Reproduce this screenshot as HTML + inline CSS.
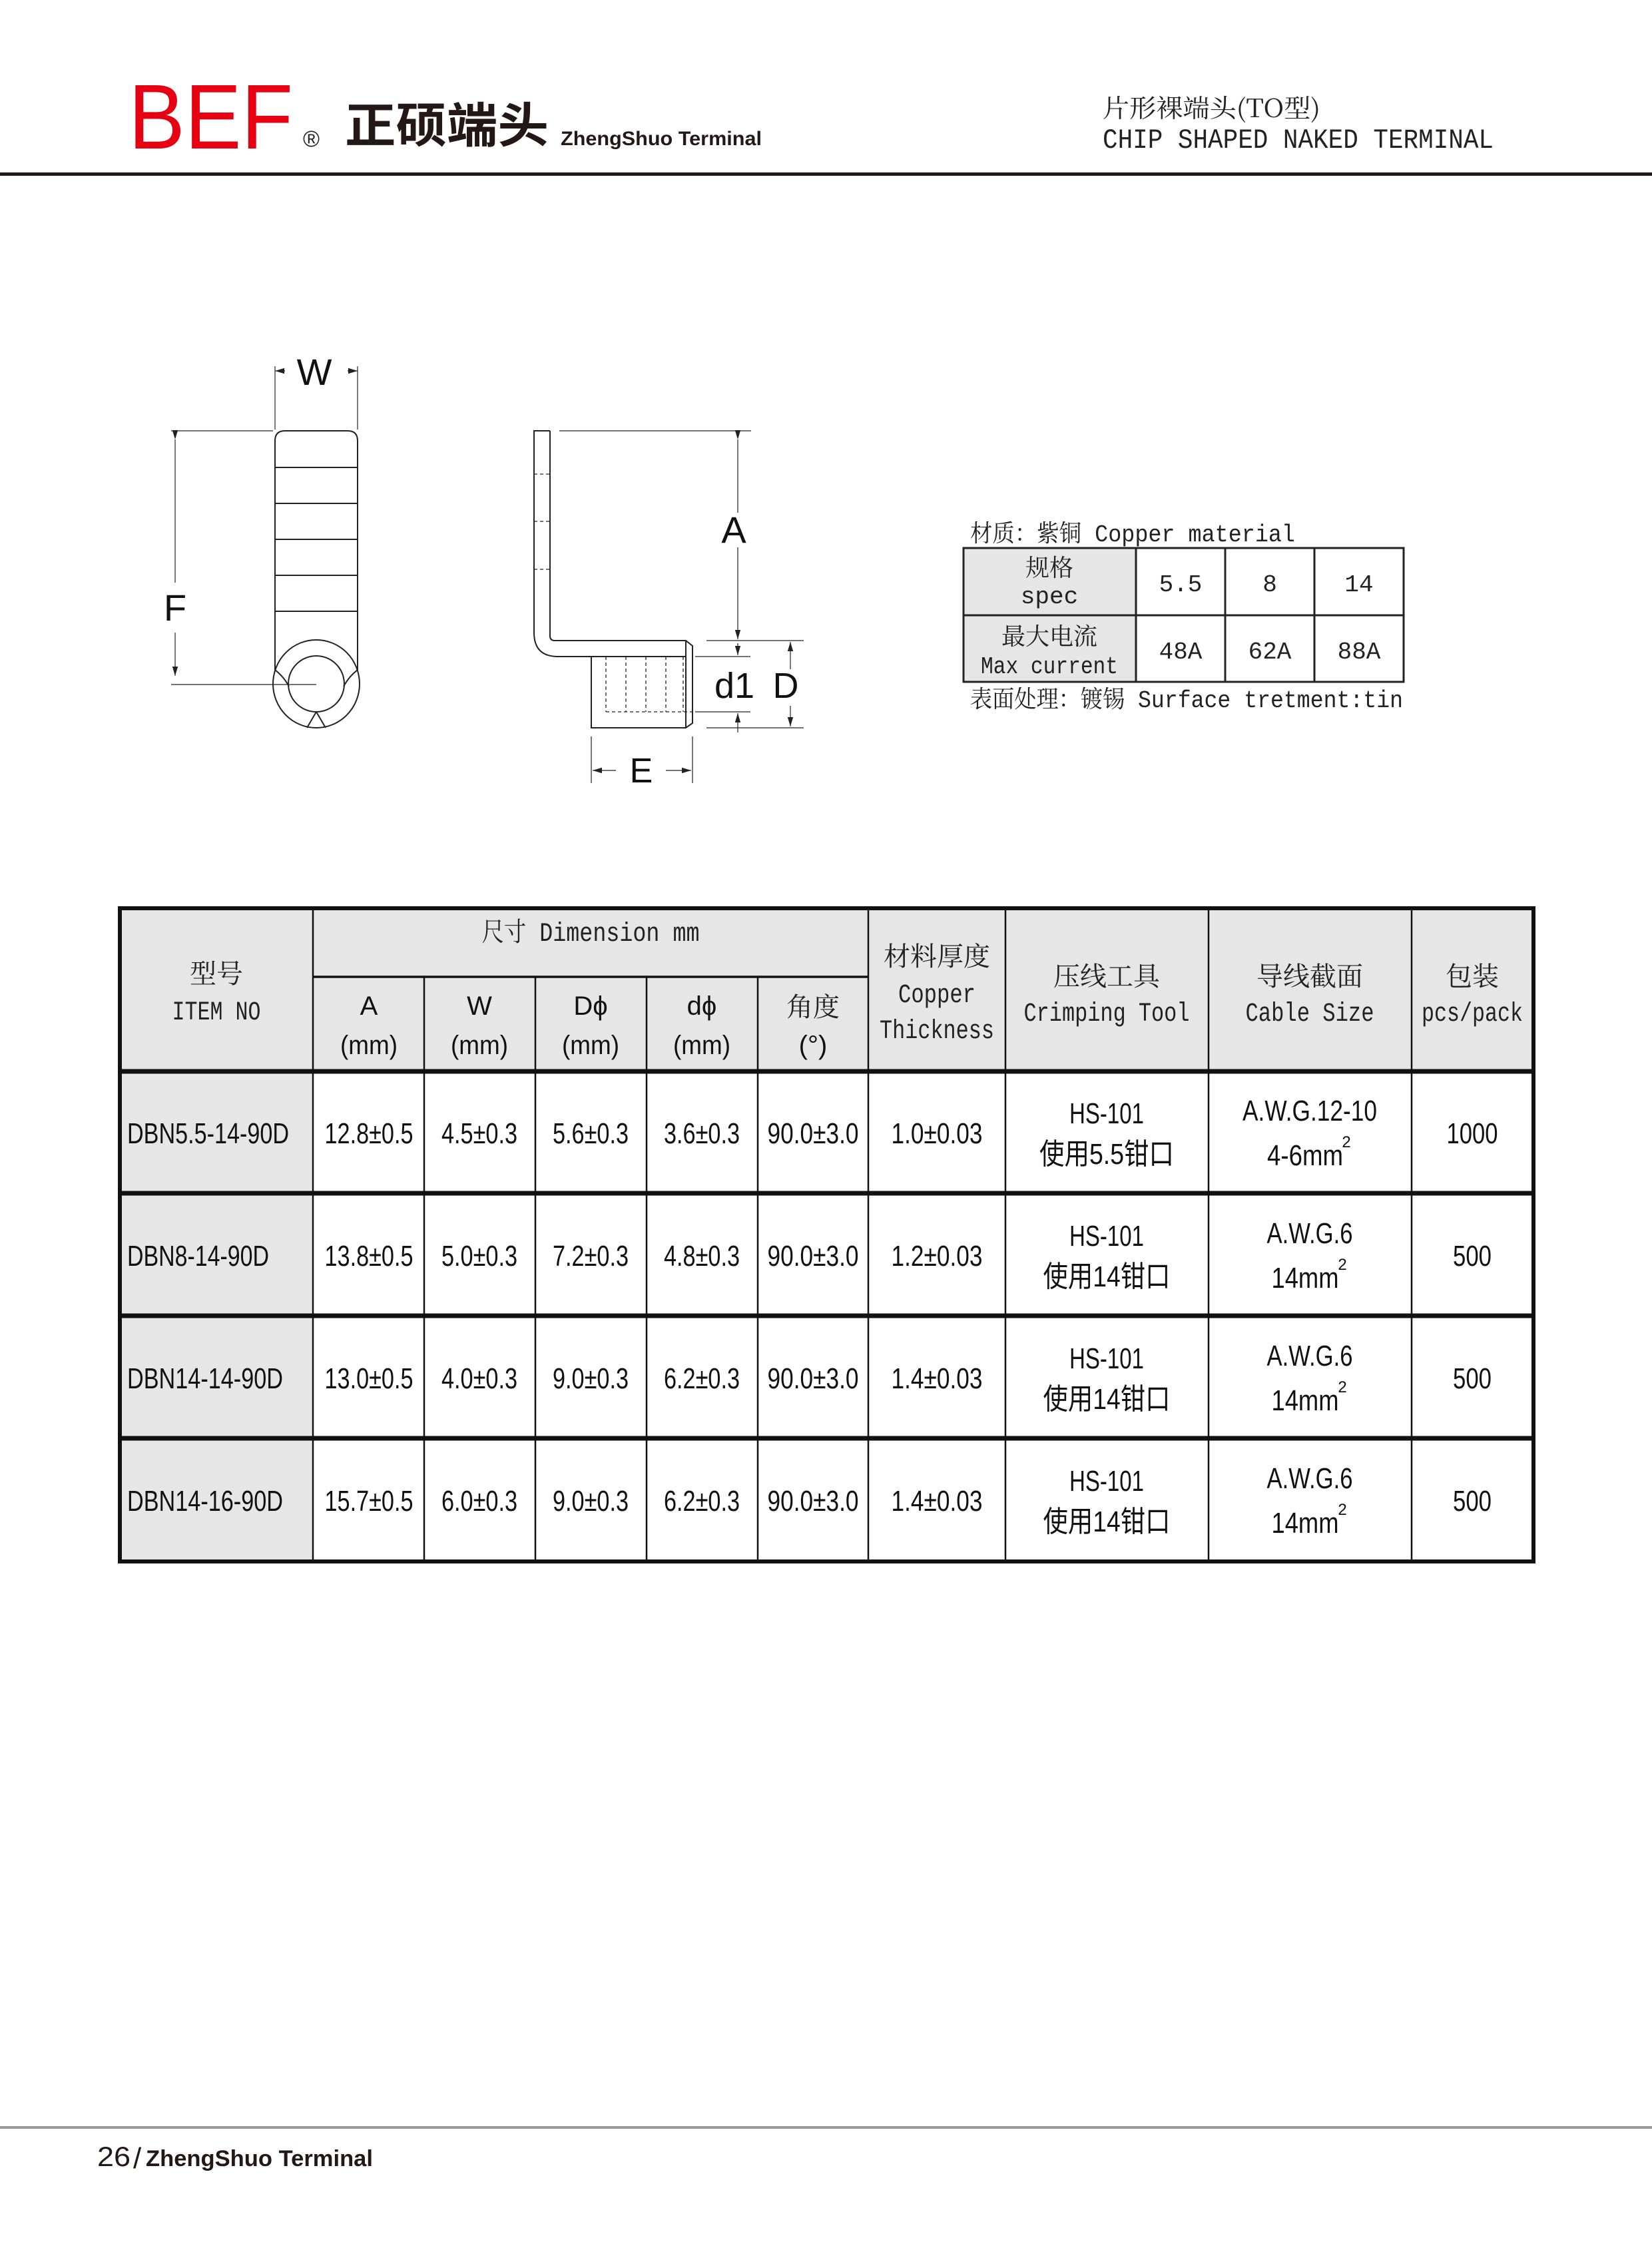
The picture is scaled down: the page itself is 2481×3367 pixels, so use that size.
<!DOCTYPE html>
<html><head><meta charset="utf-8"><style>
html,body{margin:0;padding:0;background:#fff}
svg{display:block}
.m{font-family:"Liberation Mono","Noto Serif CJK SC",monospace;fill:#222}
.s{font-family:"Liberation Sans","Noto Sans CJK SC",sans-serif;fill:#111}
.c{font-family:"Noto Serif CJK SC","Noto Sans CJK SC",serif;fill:#222}
</style></head><body>
<svg width="2481" height="3367" viewBox="0 0 2481 3367" xmlns="http://www.w3.org/2000/svg">
<defs>
<marker id="ar" viewBox="0 0 10 10" refX="10" refY="5" markerWidth="14" markerHeight="14" markerUnits="userSpaceOnUse" orient="auto"><path d="M0,2 L10,5 L0,8 z" fill="#222"/></marker>
</defs>
<rect width="2481" height="3367" fill="#fff"/>
<!-- header -->
<text x="193" y="223" font-family="Liberation Sans, sans-serif" font-size="138" fill="#e60012" textLength="247" lengthAdjust="spacingAndGlyphs">BEF</text>
<text x="455" y="220" font-family="Liberation Sans, sans-serif" font-size="34" fill="#222">®</text>
<text x="518" y="214" font-family="Noto Sans CJK SC, sans-serif" font-weight="bold" font-size="72" fill="#231815" textLength="306" lengthAdjust="spacingAndGlyphs">正硕端头</text>
<text x="842" y="218" font-family="Liberation Sans, sans-serif" font-weight="bold" font-size="30" fill="#231815" textLength="302" lengthAdjust="spacingAndGlyphs">ZhengShuo Terminal</text>
<text x="1656" y="176" class="c" font-size="38" textLength="327" lengthAdjust="spacingAndGlyphs">片形裸端头(TO型)</text>
<text x="1656" y="222" class="m" font-size="42" textLength="587" lengthAdjust="spacingAndGlyphs">CHIP SHAPED  NAKED  TERMINAL</text>
<rect x="0" y="259" width="2481" height="5" fill="#231815"/>

<!-- left drawing -->
<g fill="none" stroke="#222" stroke-width="2">
<path d="M413,1008 L413,662 Q413,647 428,647 L522,647 Q537,647 537,662 L537,1008"/>
<line x1="413" y1="702" x2="537" y2="702"/><line x1="413" y1="756" x2="537" y2="756"/>
<line x1="413" y1="810" x2="537" y2="810"/><line x1="413" y1="864" x2="537" y2="864"/>
<line x1="413" y1="918" x2="537" y2="918"/>
<ellipse cx="475" cy="1027" rx="65" ry="66"/>
<ellipse cx="475" cy="1027" rx="42" ry="42"/>
<path d="M413,1006 Q426,1016 434,1031"/><path d="M537,1006 Q524,1016 516,1031"/>
<path d="M475,1069 L461,1093 M475,1069 L489,1093"/>
<g stroke-width="1.2">
<line x1="257" y1="647" x2="410" y2="647"/><line x1="257" y1="1028" x2="475" y2="1028"/>
<line x1="263" y1="660" x2="263" y2="875" marker-start="url(#ar)"/>
<line x1="263" y1="950" x2="263" y2="1015" marker-end="url(#ar)"/>
<line x1="413" y1="550" x2="413" y2="645"/><line x1="537" y1="550" x2="537" y2="645"/>
<line x1="428" y1="557" x2="413" y2="557" marker-end="url(#ar)"/>
<line x1="522" y1="557" x2="537" y2="557" marker-end="url(#ar)"/>
</g>
</g>
<text x="472" y="578" class="s" font-size="56" text-anchor="middle" fill="#222">W</text>
<text x="263" y="932" class="s" font-size="56" text-anchor="middle" fill="#222">F</text>

<!-- right drawing -->
<g fill="none" stroke="#222" stroke-width="2">
<path d="M826,647 L802,647 L802,950 Q802,986 838,986 L888,986"/>
<path d="M826,647 L826,955 Q826,962 833,962 L1030,962 L1040,970 L1040,1086 L1030,1093 L888,1093 L888,986 L1030,986"/>
<line x1="1030" y1="962" x2="1030" y2="1093"/>
<g stroke-width="1.3" stroke-dasharray="5,4">
<line x1="802" y1="712" x2="826" y2="712"/><line x1="802" y1="783" x2="826" y2="783"/><line x1="802" y1="855" x2="826" y2="855"/>
<line x1="910" y1="986" x2="910" y2="1069"/><line x1="940" y1="986" x2="940" y2="1069"/>
<line x1="970" y1="986" x2="970" y2="1069"/><line x1="1000" y1="986" x2="1000" y2="1069"/>
<line x1="1026" y1="986" x2="1026" y2="1069"/>
<line x1="910" y1="1069" x2="1040" y2="1069"/>
</g>
<g stroke-width="1.2">
<line x1="840" y1="647" x2="1128" y2="647"/>
<line x1="1108" y1="660" x2="1108" y2="770" marker-start="url(#ar)"/>
<line x1="1108" y1="822" x2="1108" y2="960" marker-end="url(#ar)"/>
<line x1="1061" y1="962" x2="1207" y2="962"/><line x1="1044" y1="986" x2="1127" y2="986"/>
<line x1="1044" y1="1069" x2="1127" y2="1069"/><line x1="1061" y1="1093" x2="1207" y2="1093"/>
<line x1="1108" y1="966" x2="1108" y2="984" marker-end="url(#ar)"/>
<line x1="1108" y1="1100" x2="1108" y2="1071" marker-end="url(#ar)"/>
<line x1="1187" y1="1005" x2="1187" y2="964" marker-end="url(#ar)"/>
<line x1="1187" y1="1060" x2="1187" y2="1091" marker-end="url(#ar)"/>
<line x1="888" y1="1106" x2="888" y2="1176"/><line x1="1040" y1="1106" x2="1040" y2="1176"/>
<line x1="925" y1="1157" x2="890" y2="1157" marker-end="url(#ar)"/>
<line x1="1000" y1="1157" x2="1038" y2="1157" marker-end="url(#ar)"/>
</g>
</g>
<text x="1102" y="815" class="s" font-size="56" text-anchor="middle" fill="#222">A</text>
<text x="1103" y="1048" class="s" font-size="54" text-anchor="middle" fill="#222">d1</text>
<text x="1180" y="1048" class="s" font-size="54" text-anchor="middle" fill="#222">D</text>
<text x="963" y="1175" class="s" font-size="52" text-anchor="middle" fill="#222">E</text>

<!-- spec table -->
<text x="1457" y="813" class="m" font-size="36" textLength="488" lengthAdjust="spacingAndGlyphs">材质：紫铜 Copper material</text>
<rect x="1447" y="823" width="259" height="201" fill="#e6e6e6"/>
<g stroke="#222" stroke-width="3" fill="none">
<rect x="1447" y="823" width="661" height="201"/>
<line x1="1447" y1="924" x2="2108" y2="924"/>
<line x1="1706" y1="823" x2="1706" y2="1024"/><line x1="1840" y1="823" x2="1840" y2="1024"/><line x1="1974" y1="823" x2="1974" y2="1024"/>
</g>
<g class="m" font-size="36" text-anchor="middle">
<text x="1576" y="865">规格</text>
<text x="1576" y="906">spec</text>
<text x="1773" y="888">5.5</text><text x="1907" y="888">8</text><text x="2041" y="888">14</text>
<text x="1576" y="968">最大电流</text>
<text x="1576" y="1011" textLength="206" lengthAdjust="spacingAndGlyphs">Max current</text>
<text x="1773" y="989">48A</text><text x="1907" y="989">62A</text><text x="2041" y="989">88A</text>
</g>
<text x="1457" y="1062" class="m" font-size="36" textLength="650" lengthAdjust="spacingAndGlyphs">表面处理：镀锡 Surface tretment:tin</text>

<!-- main table -->
<rect x="180" y="1364" width="2123" height="245" fill="#e6e6e6"/>
<rect x="180" y="1609" width="290" height="736" fill="#e6e6e6"/>
<g stroke="#111" fill="none">
<g stroke-width="2.5">
<line x1="470" y1="1364" x2="470" y2="2345"/>
<line x1="637" y1="1467" x2="637" y2="2345"/>
<line x1="804" y1="1467" x2="804" y2="2345"/>
<line x1="971" y1="1467" x2="971" y2="2345"/>
<line x1="1138" y1="1467" x2="1138" y2="2345"/>
<line x1="1304" y1="1364" x2="1304" y2="2345"/>
<line x1="1510" y1="1364" x2="1510" y2="2345"/>
<line x1="1815" y1="1364" x2="1815" y2="2345"/>
<line x1="2120" y1="1364" x2="2120" y2="2345"/>
</g>
<line x1="470" y1="1467" x2="1304" y2="1467" stroke-width="3.5"/>
<g stroke-width="7">
<line x1="180" y1="1609" x2="2303" y2="1609"/>
<line x1="180" y1="1792" x2="2303" y2="1792"/>
<line x1="180" y1="1976" x2="2303" y2="1976"/>
<line x1="180" y1="2160" x2="2303" y2="2160"/>
</g>
<rect x="180" y="1364" width="2123" height="981" stroke-width="6"/>
</g>
<g class="m" font-size="40" text-anchor="middle">
<text x="887" y="1413" textLength="327" lengthAdjust="spacingAndGlyphs">尺寸 Dimension mm</text>
<text x="325" y="1476">型号</text>
<text x="325" y="1531" textLength="133" lengthAdjust="spacingAndGlyphs">ITEM NO</text>
<text x="1407" y="1450">材料厚度</text>
<text x="1407" y="1505" textLength="116" lengthAdjust="spacingAndGlyphs">Copper</text>
<text x="1407" y="1559" textLength="172" lengthAdjust="spacingAndGlyphs">Thickness</text>
<text x="1662" y="1480">压线工具</text>
<text x="1662" y="1533" textLength="249" lengthAdjust="spacingAndGlyphs">Crimping Tool</text>
<text x="1967" y="1480">导线截面</text>
<text x="1967" y="1533" textLength="193" lengthAdjust="spacingAndGlyphs">Cable Size</text>
<text x="2211" y="1480">包装</text>
<text x="2211" y="1533" textLength="152" lengthAdjust="spacingAndGlyphs">pcs/pack</text>
<text x="1221" y="1526">角度</text>
</g>
<g class="s" font-size="40" text-anchor="middle">
<text x="554" y="1524">A</text><text x="554" y="1583" textLength="86" lengthAdjust="spacingAndGlyphs">(mm)</text>
<text x="720" y="1524">W</text><text x="720" y="1583" textLength="86" lengthAdjust="spacingAndGlyphs">(mm)</text>
<text x="887" y="1524">Dϕ</text><text x="887" y="1583" textLength="86" lengthAdjust="spacingAndGlyphs">(mm)</text>
<text x="1054" y="1524">dϕ</text><text x="1054" y="1583" textLength="86" lengthAdjust="spacingAndGlyphs">(mm)</text>
<text x="1221" y="1583">(°)</text>
</g>

<!-- data rows -->
<g class="s" font-size="44">
<g transform="translate(0,0)">
<text x="191" y="1717" textLength="243" lengthAdjust="spacingAndGlyphs">DBN5.5-14-90D</text>
<g text-anchor="middle">
<text x="554" y="1717" textLength="133" lengthAdjust="spacingAndGlyphs">12.8±0.5</text>
<text x="720" y="1717" textLength="114" lengthAdjust="spacingAndGlyphs">4.5±0.3</text>
<text x="887" y="1717" textLength="114" lengthAdjust="spacingAndGlyphs">5.6±0.3</text>
<text x="1054" y="1717" textLength="114" lengthAdjust="spacingAndGlyphs">3.6±0.3</text>
<text x="1221" y="1717" textLength="137" lengthAdjust="spacingAndGlyphs">90.0±3.0</text>
<text x="1407" y="1717" textLength="137" lengthAdjust="spacingAndGlyphs">1.0±0.03</text>
<text x="1662" y="1687" textLength="112" lengthAdjust="spacingAndGlyphs">HS-101</text>
<text x="1662" y="1748" textLength="202" lengthAdjust="spacingAndGlyphs">使用5.5钳口</text>
<text x="1967" y="1683" textLength="202" lengthAdjust="spacingAndGlyphs">A.W.G.12-10</text>
<text x="1960" y="1750" textLength="114" lengthAdjust="spacingAndGlyphs">4-6mm</text>
<text x="2022" y="1723" font-size="24">2</text>
<text x="2211" y="1717" textLength="77" lengthAdjust="spacingAndGlyphs">1000</text>
</g></g>
<g transform="translate(0,184)">
<text x="191" y="1717" textLength="213" lengthAdjust="spacingAndGlyphs">DBN8-14-90D</text>
<g text-anchor="middle">
<text x="554" y="1717" textLength="133" lengthAdjust="spacingAndGlyphs">13.8±0.5</text>
<text x="720" y="1717" textLength="114" lengthAdjust="spacingAndGlyphs">5.0±0.3</text>
<text x="887" y="1717" textLength="114" lengthAdjust="spacingAndGlyphs">7.2±0.3</text>
<text x="1054" y="1717" textLength="114" lengthAdjust="spacingAndGlyphs">4.8±0.3</text>
<text x="1221" y="1717" textLength="137" lengthAdjust="spacingAndGlyphs">90.0±3.0</text>
<text x="1407" y="1717" textLength="137" lengthAdjust="spacingAndGlyphs">1.2±0.03</text>
<text x="1662" y="1687" textLength="112" lengthAdjust="spacingAndGlyphs">HS-101</text>
<text x="1662" y="1748" textLength="191" lengthAdjust="spacingAndGlyphs">使用14钳口</text>
<text x="1967" y="1683" textLength="129" lengthAdjust="spacingAndGlyphs">A.W.G.6</text>
<text x="1960" y="1750" textLength="101" lengthAdjust="spacingAndGlyphs">14mm</text>
<text x="2016" y="1723" font-size="24">2</text>
<text x="2211" y="1717" textLength="58" lengthAdjust="spacingAndGlyphs">500</text>
</g></g>
<g transform="translate(0,368)">
<text x="191" y="1717" textLength="234" lengthAdjust="spacingAndGlyphs">DBN14-14-90D</text>
<g text-anchor="middle">
<text x="554" y="1717" textLength="133" lengthAdjust="spacingAndGlyphs">13.0±0.5</text>
<text x="720" y="1717" textLength="114" lengthAdjust="spacingAndGlyphs">4.0±0.3</text>
<text x="887" y="1717" textLength="114" lengthAdjust="spacingAndGlyphs">9.0±0.3</text>
<text x="1054" y="1717" textLength="114" lengthAdjust="spacingAndGlyphs">6.2±0.3</text>
<text x="1221" y="1717" textLength="137" lengthAdjust="spacingAndGlyphs">90.0±3.0</text>
<text x="1407" y="1717" textLength="137" lengthAdjust="spacingAndGlyphs">1.4±0.03</text>
<text x="1662" y="1687" textLength="112" lengthAdjust="spacingAndGlyphs">HS-101</text>
<text x="1662" y="1748" textLength="191" lengthAdjust="spacingAndGlyphs">使用14钳口</text>
<text x="1967" y="1683" textLength="129" lengthAdjust="spacingAndGlyphs">A.W.G.6</text>
<text x="1960" y="1750" textLength="101" lengthAdjust="spacingAndGlyphs">14mm</text>
<text x="2016" y="1723" font-size="24">2</text>
<text x="2211" y="1717" textLength="58" lengthAdjust="spacingAndGlyphs">500</text>
</g></g>
<g transform="translate(0,552)">
<text x="191" y="1717" textLength="234" lengthAdjust="spacingAndGlyphs">DBN14-16-90D</text>
<g text-anchor="middle">
<text x="554" y="1717" textLength="133" lengthAdjust="spacingAndGlyphs">15.7±0.5</text>
<text x="720" y="1717" textLength="114" lengthAdjust="spacingAndGlyphs">6.0±0.3</text>
<text x="887" y="1717" textLength="114" lengthAdjust="spacingAndGlyphs">9.0±0.3</text>
<text x="1054" y="1717" textLength="114" lengthAdjust="spacingAndGlyphs">6.2±0.3</text>
<text x="1221" y="1717" textLength="137" lengthAdjust="spacingAndGlyphs">90.0±3.0</text>
<text x="1407" y="1717" textLength="137" lengthAdjust="spacingAndGlyphs">1.4±0.03</text>
<text x="1662" y="1687" textLength="112" lengthAdjust="spacingAndGlyphs">HS-101</text>
<text x="1662" y="1748" textLength="191" lengthAdjust="spacingAndGlyphs">使用14钳口</text>
<text x="1967" y="1683" textLength="129" lengthAdjust="spacingAndGlyphs">A.W.G.6</text>
<text x="1960" y="1750" textLength="101" lengthAdjust="spacingAndGlyphs">14mm</text>
<text x="2016" y="1723" font-size="24">2</text>
<text x="2211" y="1717" textLength="58" lengthAdjust="spacingAndGlyphs">500</text>
</g></g>
</g>

<!-- footer -->
<rect x="0" y="3193" width="2481" height="4" fill="#999"/>
<text x="146" y="3253" font-family="Liberation Sans, sans-serif" font-size="42" fill="#231815" textLength="50" lengthAdjust="spacingAndGlyphs">26</text>
<text x="200" y="3256" font-family="Liberation Sans, sans-serif" font-size="44" fill="#231815">/</text>
<text x="219" y="3253" font-family="Liberation Sans, sans-serif" font-weight="bold" font-size="34" fill="#231815" textLength="341" lengthAdjust="spacingAndGlyphs">ZhengShuo Terminal</text>
</svg>
</body></html>
